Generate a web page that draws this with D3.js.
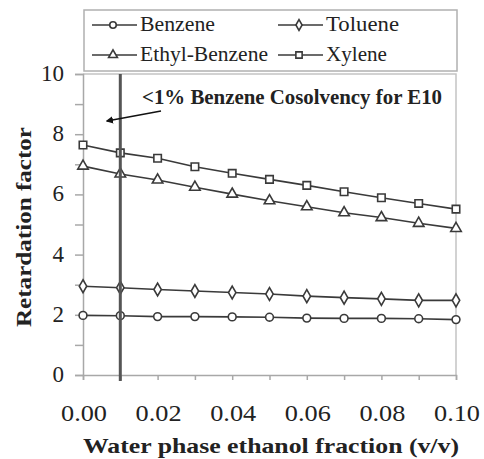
<!DOCTYPE html>
<html>
<head>
<meta charset="utf-8">
<script src="https://cdn.jsdelivr.net/npm/d3@7"></script>
<style>
  body { margin: 0; background: #fff; }
  svg text { font-family: "Liberation Serif", Tinos, "Times New Roman", "DejaVu Serif", serif; fill: #222; }
</style>
</head>
<body>
<div id="chart"></div>
<script>
// ethanol fraction in water phase
const fractions = [0.00, 0.01, 0.02, 0.03, 0.04, 0.05, 0.06, 0.07, 0.08, 0.09, 0.10];

const benzene = [1.98, 1.97, 1.94, 1.94, 1.93, 1.92, 1.89, 1.88, 1.88, 1.87, 1.84];
const toluene = [2.95, 2.90, 2.84, 2.79, 2.74, 2.69, 2.62, 2.57, 2.53, 2.48, 2.48];
const ethylBenzene = [6.94, 6.68, 6.48, 6.24, 6.01, 5.79, 5.59, 5.39, 5.23, 5.04, 4.87];
const xylene = [7.64, 7.38, 7.20, 6.92, 6.70, 6.50, 6.30, 6.09, 5.89, 5.70, 5.51];

const seriesNames = ["Benzene", "Toluene", "Ethyl-Benzene", "Xylene"];
const xTickLabels = ["0.00", "0.02", "0.04", "0.06", "0.08", "0.10"];
const yTickLabels = [0, 2, 4, 6, 8, 10];

const series = [
    { name: "Benzene", values: benzene, symbol: d3.symbolCircle, size: 48 },
    { name: "Toluene", values: toluene, symbol: d3.symbolDiamond, size: 48 },
    { name: "Ethyl-Benzene", values: ethylBenzene, symbol: d3.symbolTriangle, size: 48 },
    { name: "Xylene", values: xylene, symbol: d3.symbolSquare, size: 56 }
];

const W = 484, H = 459;
const svg = d3.select("#chart").append("svg")
    .attr("width", W)
    .attr("height", H)
    .attr("font-family", "Liberation Serif, serif");

// plot area
const x = d3.scaleLinear().domain([0, 0.1]).range([83, 456]);
const y = d3.scaleLinear().domain([0, 10]).range([375, 74]);

const gridColor = "#a8a8a8";

// plot frame (top and right)
svg.append("path")
    .attr("d", `M${x(0)},${y(10)}H${x(0.1)}V${y(0)}`)
    .attr("fill", "none")
    .attr("stroke", "#c4c4c4")
    .attr("stroke-width", 1.5);

// Y axis
const yAxis = svg.append("g")
    .attr("transform", `translate(${x(0)},0)`)
    .call(d3.axisLeft(y).tickValues(d3.range(0, 11, 1)).tickSize(8).tickFormat(""));
yAxis.select(".domain").attr("stroke", gridColor).attr("stroke-width", 1.5);
yAxis.selectAll(".tick line").attr("stroke", gridColor).attr("stroke-width", 1.5);

yTickLabels.forEach(v => {
    svg.append("text")
        .attr("x", 64)
        .attr("y", y(v) + 7)
        .attr("text-anchor", "end")
        .style("font-size", "23px")
        .text(v);
});

// X axis
const xAxis = svg.append("g")
    .attr("transform", `translate(0,${y(0)})`)
    .call(d3.axisBottom(x).tickValues(fractions).tickSize(5).tickFormat(""));
xAxis.select(".domain").attr("stroke", gridColor).attr("stroke-width", 1.5);
xAxis.selectAll(".tick line").attr("stroke", gridColor).attr("stroke-width", 1.5);

xTickLabels.forEach(t => {
    svg.append("text")
        .attr("x", x(+t) + 1)
        .attr("y", 421)
        .attr("text-anchor", "middle")
        .attr("textLength", 46)
        .attr("lengthAdjust", "spacingAndGlyphs")
        .style("font-size", "23px")
        .text(t);
});

// axis titles
svg.append("text")
    .attr("x", 271)
    .attr("y", 453)
    .attr("text-anchor", "middle")
    .attr("textLength", 376)
    .attr("lengthAdjust", "spacingAndGlyphs")
    .style("font-size", "22px")
    .style("font-weight", "bold")
    .text("Water phase ethanol fraction (v/v)");

svg.append("text")
    .attr("transform", "rotate(-90)")
    .attr("x", -227)
    .attr("y", 31)
    .attr("text-anchor", "middle")
    .attr("textLength", 200)
    .attr("lengthAdjust", "spacingAndGlyphs")
    .style("font-size", "22px")
    .style("font-weight", "bold")
    .text("Retardation factor");

// series lines and markers
const line = d3.line()
    .x((d, i) => x(fractions[i]))
    .y(d => y(d));

const lineColor = "#3a3a3a";

series.forEach(s => {
    svg.append("path")
        .datum(s.values)
        .attr("d", line)
        .attr("fill", "none")
        .attr("stroke", lineColor)
        .attr("stroke-width", 1.6);

    svg.selectAll(null)
        .data(s.values)
        .enter()
        .append("path")
        .attr("d", d3.symbol().type(s.symbol).size(s.size))
        .attr("transform", (d, i) => `translate(${x(fractions[i])},${y(d)})`)
        .attr("fill", "#fff")
        .attr("stroke", lineColor)
        .attr("stroke-width", 1.6);
});

// E10 marker line at 1% ethanol
svg.append("line")
    .attr("x1", x(0.01)).attr("x2", x(0.01))
    .attr("y1", y(10)).attr("y2", y(0) + 6)
    .attr("stroke", "#555")
    .attr("stroke-width", 3);

// annotation
svg.append("defs").append("marker")
    .attr("id", "arrow")
    .attr("viewBox", "0 0 10 10")
    .attr("refX", 8).attr("refY", 5)
    .attr("markerWidth", 5).attr("markerHeight", 5)
    .attr("orient", "auto")
    .append("path")
    .attr("d", "M0,0L10,5L0,10Z")
    .attr("fill", "#111");

svg.append("line")
    .attr("x1", 161).attr("y1", 111)
    .attr("x2", 107).attr("y2", 121)
    .attr("stroke", "#111")
    .attr("stroke-width", 1.5)
    .attr("marker-end", "url(#arrow)");

svg.append("text")
    .attr("x", 142)
    .attr("y", 104)
    .attr("textLength", 300)
    .attr("lengthAdjust", "spacingAndGlyphs")
    .style("font-size", "20px")
    .style("font-weight", "bold")
    .text("<1% Benzene Cosolvency for E10");

// legend
const legend = svg.append("g");
legend.append("rect")
    .attr("x", 84).attr("y", 10)
    .attr("width", 373).attr("height", 61)
    .attr("fill", "#fff")
    .attr("stroke", "#b0b0b0")
    .attr("stroke-width", 1.5);

const legendPos = [
    { x: 92, y: 25, w: 75 },
    { x: 278, y: 25, w: 73 },
    { x: 92, y: 55, w: 128 },
    { x: 278, y: 55, w: 61 }
];

series.forEach((s, i) => {
    const p = legendPos[i];
    const g = legend.append("g").attr("transform", `translate(${p.x},${p.y})`);
    g.append("line")
        .attr("x1", 0).attr("x2", 45)
        .attr("stroke", lineColor)
        .attr("stroke-width", 1.6);
    g.append("path")
        .attr("d", d3.symbol().type(s.symbol).size(s.size * 0.7))
        .attr("transform", "translate(21,0)")
        .attr("fill", "#fff")
        .attr("stroke", lineColor)
        .attr("stroke-width", 1.6);
    g.append("text")
        .attr("x", 48)
        .attr("y", 6)
        .attr("textLength", p.w)
        .attr("lengthAdjust", "spacingAndGlyphs")
        .style("font-size", "20px")
        .text(seriesNames[i]);
});
</script>
</body>
</html>
